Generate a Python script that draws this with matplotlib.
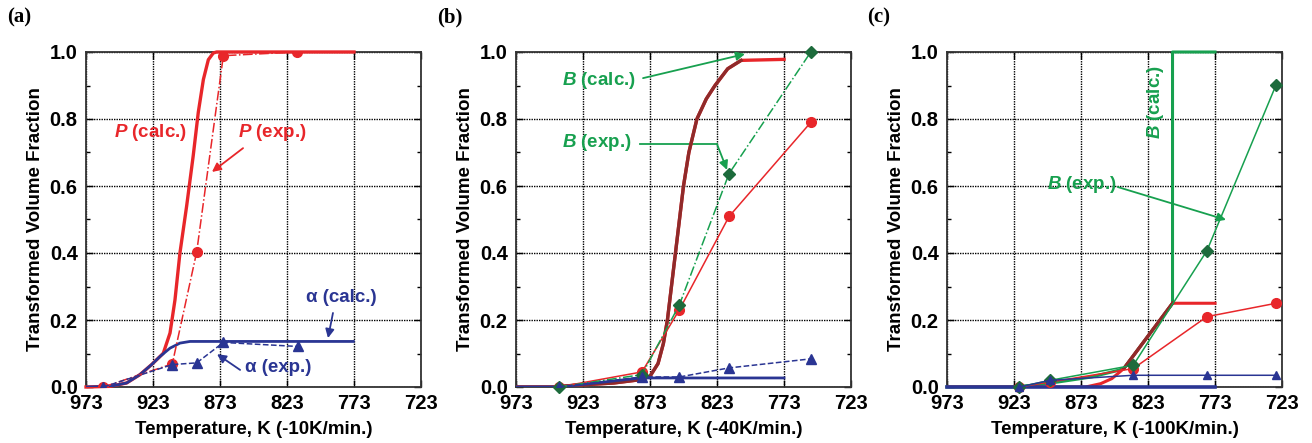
import matplotlib
matplotlib.use("Agg")
import matplotlib.pyplot as plt
from matplotlib.ticker import MultipleLocator

plt.rcParams['font.family'] = ['Liberation Sans', 'DejaVu Sans']
plt.rcParams['font.weight'] = 'bold'
plt.rcParams['mathtext.fontset'] = 'custom'
plt.rcParams['mathtext.rm'] = 'Liberation Sans:bold'
plt.rcParams['mathtext.it'] = 'Liberation Sans:italic:bold'
plt.rcParams['mathtext.bf'] = 'Liberation Sans:bold'

RED = "#e8262a"
BLUE = "#2a3593"
GREEN = "#17a04f"
DGREEN = "#1d6b3c"
BROWN = "#8f2a2a"

# ---------- (a) -10 K/min ----------
a_P_exp_T = [960, 908.6, 890.4, 870.5, 815.8]
a_P_exp_y = [0.0, 0.069, 0.403, 0.989, 1.0]
a_al_exp_T = [960, 908.6, 890.4, 870.5, 815.0]
a_al_exp_y = [0.0, 0.067, 0.072, 0.133, 0.121]
a_P_calc_T = [973, 955, 942.7, 932.7, 924, 917.8, 915.3, 910.3, 906.6, 902.9, 897.9,
              893, 889.2, 885.4, 881.7, 878, 875.5, 773]
a_P_calc_y = [0.0, 0.002, 0.012, 0.037, 0.067, 0.091, 0.101, 0.161, 0.26, 0.4, 0.54,
              0.69, 0.82, 0.918, 0.977, 0.997, 1.0, 1.0]
a_al_calc_T = [973, 955, 942.7, 932.7, 924, 917.8, 910.3, 902.9, 895.4, 773.5]
a_al_calc_y = [0.0, 0.002, 0.012, 0.037, 0.067, 0.091, 0.116, 0.131, 0.136, 0.136]

# ---------- (b) -40 K/min ----------
b_exp_T = [941, 879, 851, 814, 753]
b_P_exp_y = [0.0, 0.045, 0.231, 0.509, 0.79]
b_B_exp_y = [0.0, 0.037, 0.246, 0.637, 1.0]
b_al_exp_y = [0.0, 0.03, 0.03, 0.057, 0.084]
b_calc_T = [973, 945, 930, 900, 880, 873, 867, 863, 860, 857, 854, 851, 848, 844,
            838, 831, 824.5, 815, 805, 773]
b_calc_y = [0.0, 0.0, 0.005, 0.012, 0.022, 0.032, 0.07, 0.13, 0.2, 0.3, 0.4, 0.5, 0.6,
            0.7, 0.8, 0.86, 0.9, 0.95, 0.975, 0.978]
b_B_calc_end = 19  # green (B) calc shares the curve up to this index
b_al_calc_T = [973, 941, 880, 773]
b_al_calc_y = [0.0, 0.0, 0.027, 0.027]

# ---------- (c) -100 K/min ----------
c_exp_T = [919, 896, 834, 779, 727.4]
c_P_exp_y = [0.0, 0.015, 0.055, 0.21, 0.25]
c_B_exp_y = [0.0, 0.02, 0.065, 0.407, 0.902]
c_al_exp_y = [0.0, 0.02, 0.035, 0.035, 0.035]
c_B_calc_T = [973, 925, 910, 890, 865, 845, 840.9, 804.7, 804.7, 773]
c_B_calc_y = [0.0, 0.0, 0.005, 0.015, 0.03, 0.05, 0.056, 0.25, 1.0, 1.0]
c_P_calc_T = [973, 869.5, 858.3, 850, 844, 840.9, 804.7, 773]
c_P_calc_y = [0.0, 0.0, 0.01, 0.025, 0.045, 0.056, 0.25, 0.25]
c_al_calc_T = [973, 773]
c_al_calc_y = [0.0, 0.0]

xlabels = ["Temperature, K (-10K/min.)", "Temperature, K (-40K/min.)",
           "Temperature, K (-100K/min.)"]
panel_tags = ["(a)", "(b)", "(c)"]

fig = plt.figure(figsize=(13.12, 4.43), dpi=100)
lefts = [86, 516, 947]
tag_x = [7, 437, 867]
axes = []
for i, l in enumerate(lefts):
    ax = fig.add_axes([l / 1312, 1 - 387 / 443, 335 / 1312, 335 / 443])
    ax.set_xlim(973, 723)
    ax.set_ylim(0, 1.0)
    ax.yaxis.set_major_locator(MultipleLocator(0.2))
    ax.yaxis.set_minor_locator(MultipleLocator(0.1))
    ax.set_xticks([973, 923, 873, 823, 773, 723])
    ax.yaxis.set_major_formatter(matplotlib.ticker.FormatStrFormatter('%.1f'))
    ax.tick_params(which='both', direction='in', top=True, right=True, labelsize=14.5,
                   pad=6, width=1.0)
    ax.tick_params(axis='x', pad=5)
    ax.tick_params(which='major', length=5)
    ax.tick_params(which='minor', length=3)
    ax.grid(True, which='major', color='black', linestyle=(0, (1, 0.8)), linewidth=1.0)
    for s in ax.spines.values():
        s.set_linewidth(1.3)
        s.set_color('#333333')
    ax.set_ylabel("Transformed Volume Fraction", fontsize=13.5, fontweight='bold',
                  labelpad=4)
    ax.set_xlabel(xlabels[i], fontsize=13.5, fontweight='bold', labelpad=6)
    fig.text(tag_x[i] / 1312, 1 - 17 / 443, panel_tags[i], family='Liberation Serif',
             fontsize=15, fontweight='bold', va='center', ha='left')
    axes.append(ax)

arrow = lambda c: dict(arrowstyle='-|>', color=c, lw=1.3, mutation_scale=13,
                       shrinkA=0, shrinkB=0)

# (a)
ax = axes[0]
ax.plot(a_P_exp_T, a_P_exp_y, color=RED, lw=1.1, ls='-.', marker='o', ms=7, zorder=4)
ax.plot(a_al_exp_T, a_al_exp_y, color=BLUE, lw=1.1, ls='--', marker='^', ms=7, zorder=4)
ax.plot(a_P_calc_T, a_P_calc_y, color=RED, lw=2.4, zorder=3, clip_on=False)
ax.plot(a_al_calc_T, a_al_calc_y, color=BLUE, lw=2.0, zorder=3)
ax.text(925.2, 0.761, r"$P$ (calc.)", color=RED, fontsize=13.5, ha='center', va='center')
ax.text(834.2, 0.761, r"$P$ (exp.)", color=RED, fontsize=13.5, ha='center', va='center')
ax.annotate('', xy=(879, 0.642), xytext=(855.8, 0.713), arrowprops=arrow(RED))
ax.text(782.7, 0.266, "α (calc.)", color=BLUE, fontsize=13.5, ha='center', va='center')
ax.annotate('', xy=(792.4, 0.146), xytext=(788.7, 0.221), arrowprops=arrow(BLUE))
ax.text(829.7, 0.057, "α (exp.)", color=BLUE, fontsize=13.5, ha='center', va='center')
ax.annotate('', xy=(875.2, 0.098), xytext=(858, 0.051), arrowprops=arrow(BLUE))

# (b)
ax = axes[1]
ax.plot(b_exp_T, b_P_exp_y, color=RED, lw=1.1, marker='o', ms=7, zorder=4)
ax.plot(b_exp_T, b_B_exp_y, color=GREEN, lw=1.1, ls='-.', marker='D', ms=6,
        mfc=DGREEN, mec=DGREEN, zorder=4, clip_on=False)
ax.plot(b_exp_T, b_al_exp_y, color=BLUE, lw=1.1, ls='--', marker='^', ms=7, zorder=4)
ax.plot(b_calc_T, b_calc_y, color=RED, lw=2.4, zorder=3)
ax.plot(b_calc_T[:b_B_calc_end], b_calc_y[:b_B_calc_end], color=BROWN, lw=2.4, zorder=3)
ax.plot(b_al_calc_T, b_al_calc_y, color=BLUE, lw=2.0, zorder=3)
ax.text(911.1, 0.916, r"$B$ (calc.)", color=GREEN, fontsize=13.5, ha='center', va='center')
ax.annotate('', xy=(802.1, 0.994), xytext=(878.2, 0.922), arrowprops=arrow(GREEN))
ax.text(912.5, 0.731, r"$B$ (exp.)", color=GREEN, fontsize=13.5, ha='center', va='center')
ax.plot([880.5, 823], [0.725, 0.725], color=GREEN, lw=1.3)
ax.annotate('', xy=(815.5, 0.648), xytext=(823, 0.725), arrowprops=arrow(GREEN))

# (c)
ax = axes[2]
ax.plot(c_exp_T, c_P_exp_y, color=RED, lw=1.1, marker='o', ms=7, zorder=4, clip_on=False)
ax.plot(c_exp_T, c_B_exp_y, color=GREEN, lw=1.1, marker='D', ms=6,
        mfc=DGREEN, mec=DGREEN, zorder=4, clip_on=False)
ax.plot(c_exp_T, c_al_exp_y, color=BLUE, lw=1.1, marker='^', ms=6, zorder=4, clip_on=False)
ax.plot(c_B_calc_T, c_B_calc_y, color=GREEN, lw=2.2, zorder=3, clip_on=False)
ax.plot(c_P_calc_T, c_P_calc_y, color=RED, lw=2.2, zorder=3)
ax.plot(c_P_calc_T[5:7], c_P_calc_y[5:7], color=BROWN, lw=2.4, zorder=3)
ax.plot(c_al_calc_T, c_al_calc_y, color=BLUE, lw=2.6, zorder=3, clip_on=False)
ax.text(817.2, 0.851, r"$B$ (calc.)", color=GREEN, fontsize=13.5, ha='center', va='center',
        rotation=90)
ax.text(872.5, 0.603, r"$B$ (exp.)", color=GREEN, fontsize=13.5, ha='center', va='center')
ax.annotate('', xy=(764.8, 0.499), xytext=(845.6, 0.597), arrowprops=arrow(GREEN))

fig.savefig("out.png", dpi=100)
